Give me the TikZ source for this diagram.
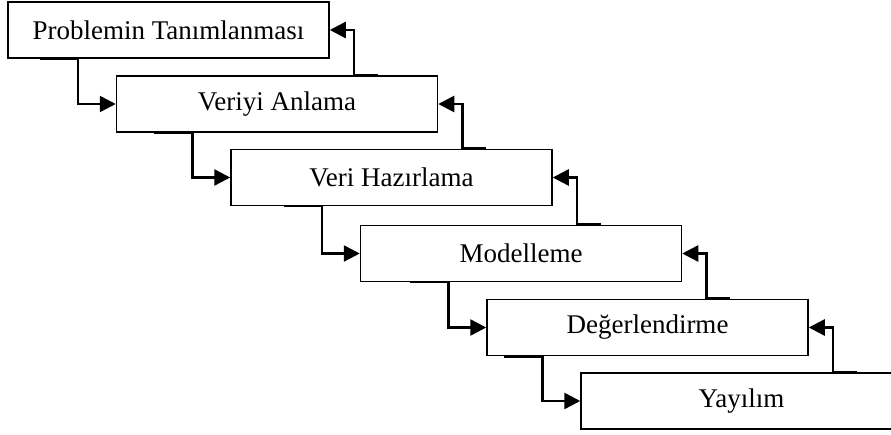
\documentclass[tikz,border=0pt]{standalone}
\usepackage{fontspec}
\setmainfont{Liberation Serif}
\usetikzlibrary{calc,arrows.meta}
\tikzset{
  stage/.style={draw, line width=1.5pt, minimum width=321pt, minimum height=56pt,
    inner sep=0pt, font=\fontsize{27}{31}\selectfont, fill=white},
  conn/.style={line width=2.5pt, -{Triangle[length=16pt,width=16pt]}},
}
\begin{document}
\begin{tikzpicture}[x=1pt,y=-1pt]
\useasboundingbox (0,0) rectangle (891,435);
\clip (0,0) rectangle (891,435);

% process stages
\node[stage] (b1) at (168.5,30)  {Problemin Tanımlanması};
\node[stage] (b2) at (277,104)   {Veriyi Anlama};
\node[stage] (b3) at (391.5,177.5) {Veri Hazırlama};
\node[stage] (b4) at (521,253.5) {Modelleme};
\node[stage] (b5) at (647.5,327.5) {Değerlendirme};
\node[stage] (b6) at (741.5,401) {Yayılım};

% forward connectors: from the bottom edge down into the next stage
\foreach \a/\b in {b1/b2, b2/b3, b3/b4, b4/b5, b5/b6} {
  \draw[conn] ($(\a.south -| \b.west)+(-76,0)$) -- ($(\a.south -| \b.west)+(-38,0)$) |- (\b.west);
}

% feedback connectors: from the top edge back up to the previous stage
\foreach \a/\b in {b1/b2, b2/b3, b3/b4, b4/b5, b5/b6} {
  \draw[conn] ($(\b.north -| \a.east)+(48,0)$) -- ($(\b.north -| \a.east)+(24,0)$) |- (\a.east);
}
\end{tikzpicture}
\end{document}
